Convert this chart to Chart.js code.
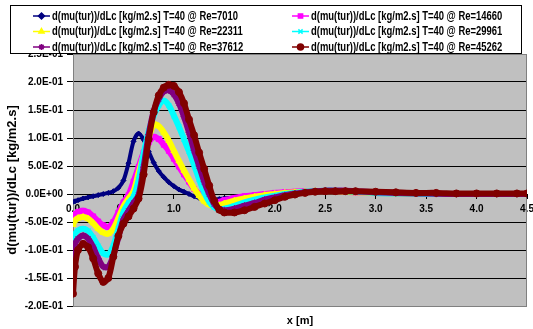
<!DOCTYPE html>
<html>
<head>
<meta charset="utf-8">
<script src="https://cdn.jsdelivr.net/npm/chart.js@4.4.1/dist/chart.umd.min.js"></script>
<style>
  body { margin: 0; background: #fff; }
  #wrap { width: 533px; height: 329px; }
</style>
</head>
<body>
<div id="wrap"><canvas id="c" width="533" height="329"></canvas></div>
<script>
// x positions [m] where values were read
const xs = [0, 0.02, 0.05, 0.1, 0.15, 0.2, 0.25, 0.3, 0.35, 0.4, 0.45, 0.5, 0.55, 0.6, 0.65, 0.7, 0.75, 0.8, 0.85, 0.9,
            0.95, 1.0, 1.05, 1.1, 1.15, 1.2, 1.25, 1.3, 1.35, 1.4, 1.45, 1.5, 1.6, 1.7, 1.8, 1.9, 2.0, 2.1, 2.2, 2.3,
            2.4, 2.5, 2.6, 2.7, 2.8, 3.0, 3.2, 3.4, 3.6, 3.8, 4.0, 4.2, 4.4, 4.5];

const re7010 = [-0.014, -0.013, -0.011, -0.008, -0.006, -0.004, -0.002, 0.0, 0.002, 0.005, 0.011, 0.024, 0.055, 0.094, 0.108, 0.097, 0.076, 0.056, 0.041, 0.030,
                0.021, 0.014, 0.008, 0.004, 0.0, -0.004, -0.007, -0.009, -0.010, -0.010, -0.009, -0.008, -0.006, -0.004, -0.002, 0.0, 0.001, 0.002, 0.003, 0.004,
                0.004, 0.004, 0.004, 0.003, 0.003, 0.002, 0.001, 0.0005, 0, 0, 0, 0, 0, 0];
const re14660 = [-0.042, -0.036, -0.032, -0.030, -0.033, -0.040, -0.049, -0.056, -0.059, -0.050, -0.033, -0.015, -0.002, 0.022, 0.048, 0.074, 0.092, 0.102, 0.098, 0.088,
                 0.077, 0.063, 0.049, 0.035, 0.022, 0.009, 0.0, -0.009, -0.015, -0.016, -0.014, -0.011, -0.007, -0.004, -0.002, 0.0, 0.002, 0.003, 0.004, 0.005,
                 0.005, 0.005, 0.005, 0.004, 0.003, 0.002, 0.001, 0.0005, 0, 0, 0, 0, 0, 0];
const re22311 = [-0.055, -0.047, -0.043, -0.041, -0.044, -0.052, -0.062, -0.069, -0.071, -0.062, -0.043, -0.022, -0.008, 0.005, 0.038, 0.070, 0.100, 0.124, 0.121, 0.110,
                 0.095, 0.077, 0.059, 0.042, 0.026, 0.010, -0.003, -0.013, -0.019, -0.021, -0.020, -0.017, -0.012, -0.008, -0.005, -0.002, 0.0, 0.002, 0.003, 0.004,
                 0.005, 0.005, 0.005, 0.004, 0.003, 0.002, 0.001, 0.0005, 0, 0, 0, 0, 0, 0];
const re29961 = [-0.085, -0.072, -0.065, -0.062, -0.066, -0.078, -0.093, -0.106, -0.108, -0.092, -0.062, -0.032, -0.016, -0.005, 0.025, 0.072, 0.112, 0.140, 0.158, 0.167,
                 0.158, 0.140, 0.120, 0.098, 0.076, 0.052, 0.026, 0.003, -0.014, -0.024, -0.027, -0.026, -0.021, -0.015, -0.010, -0.006, -0.003, 0.0, 0.002, 0.004,
                 0.005, 0.006, 0.006, 0.005, 0.004, 0.002, 0.001, 0.0005, 0, 0, 0, 0, 0, 0];
const re37612 = [-0.125, -0.090, -0.080, -0.074, -0.080, -0.095, -0.115, -0.130, -0.130, -0.110, -0.077, -0.045, -0.030, -0.016, -0.002, 0.048, 0.106, 0.148, 0.170, 0.183,
                 0.185, 0.178, 0.162, 0.138, 0.110, 0.078, 0.050, 0.022, 0.0, -0.018, -0.027, -0.029, -0.026, -0.021, -0.016, -0.010, -0.006, -0.002, 0.001, 0.003,
                 0.005, 0.006, 0.006, 0.006, 0.005, 0.003, 0.002, 0.001, 0.0005, 0, 0, 0, 0, 0];
const re45262 = [-0.178, -0.130, -0.100, -0.089, -0.095, -0.115, -0.142, -0.157, -0.150, -0.112, -0.075, -0.053, -0.040, -0.026, -0.008, 0.035, 0.098, 0.146, 0.176, 0.190,
                 0.195, 0.193, 0.182, 0.162, 0.133, 0.105, 0.074, 0.045, 0.015, -0.012, -0.028, -0.033, -0.033, -0.029, -0.023, -0.017, -0.011, -0.005, -0.001, 0.002,
                 0.004, 0.005, 0.005, 0.005, 0.005, 0.004, 0.003, 0.002, 0.002, 0.001, 0.001, 0.001, 0.001, 0.001];

const seriesLabels = [
  'd(mu(tur))/dLc [kg/m2.s] T=40 @ Re=7010',
  'd(mu(tur))/dLc [kg/m2.s] T=40 @ Re=14660',
  'd(mu(tur))/dLc [kg/m2.s] T=40 @ Re=22311',
  'd(mu(tur))/dLc [kg/m2.s] T=40 @ Re=29961',
  'd(mu(tur))/dLc [kg/m2.s] T=40 @ Re=37612',
  'd(mu(tur))/dLc [kg/m2.s] T=40 @ Re=45262'
];
const seriesValues = [re7010, re14660, re22311, re29961, re37612, re45262];
const colors = ['#000080', '#FF00FF', '#FFFF00', '#00FFFF', '#800080', '#800000'];
const markers = ['rectRot', 'rect', 'triangle', 'crossRot', 'star', 'circle'];

const xTitle = 'x [m]';
const yTitle = 'd(mu(tur))/dLc [kg/m2.s]';
const FONT = '"Liberation Sans", Arial, sans-serif';

function sci(v) {
  if (Math.abs(v) < 1e-9) return '0.0E+00';
  const e = Math.floor(Math.log10(Math.abs(v)) + 1e-9);
  const m = v / Math.pow(10, e);
  return m.toFixed(1) + 'E' + (e < 0 ? '-' : '+') + String(Math.abs(e)).padStart(2, '0');
}

const datasets = seriesValues.map((vals, i) => ({
  label: seriesLabels[i],
  data: xs.map((x, j) => ({ x: x, y: vals[j] })),
  borderColor: colors[i],
  backgroundColor: colors[i],
  borderWidth: i === 0 ? 4 : 6,
  pointStyle: markers[i],
  pointRadius: i === 0 ? 2.5 : 3.5,
  pointBorderWidth: 1,
  showLine: true,
  tension: 0.3,
  order: 6 - i
}));

const plotBg = {
  id: 'plotBg',
  beforeDraw(chart) {
    const a = chart.chartArea, ctx = chart.ctx;
    ctx.save();
    ctx.fillStyle = '#C0C0C0';
    ctx.fillRect(a.left, a.top, a.right - a.left, a.bottom - a.top);
    ctx.restore();
  },
  beforeDatasetsDraw(chart) {
    const a = chart.chartArea, ctx = chart.ctx;
    ctx.save();
    ctx.strokeStyle = '#808080';
    ctx.lineWidth = 1;
    ctx.strokeRect(a.left + 0.5, a.top + 0.5, a.right - a.left - 1, a.bottom - a.top);
    ctx.restore();
  }
};

const titlesAndLegend = {
  id: 'titlesAndLegend',
  afterDraw(chart) {
    const ctx = chart.ctx, a = chart.chartArea;
    ctx.save();
    ctx.fillStyle = '#000';
    ctx.textAlign = 'center';
    ctx.textBaseline = 'middle';
    ctx.font = 'bold 11px ' + FONT;
    ctx.fillText(xTitle, (a.left + a.right) / 2, 321);
    ctx.font = 'bold 13px ' + FONT;
    ctx.translate(12, (a.top + a.bottom) / 2);
    ctx.rotate(-Math.PI / 2);
    ctx.fillText(yTitle, 0, 0);
    ctx.restore();

    // legend box
    ctx.save();
    ctx.fillStyle = '#fff';
    ctx.fillRect(10, 5, 512, 49);
    ctx.strokeStyle = '#000';
    ctx.lineWidth = 1;
    ctx.strokeRect(10.5, 5.5, 511, 48);
    ctx.font = 'bold 12px ' + FONT;
    ctx.textBaseline = 'middle';
    ctx.textAlign = 'left';
    const sx = 186 / ctx.measureText(seriesLabels[0]).width;
    const colX = [33, 292];
    const rowY = [16, 31.5, 47];
    seriesLabels.forEach((lab, i) => {
      const x0 = colX[i % 2], y0 = rowY[Math.floor(i / 2)];
      ctx.strokeStyle = colors[i];
      ctx.fillStyle = colors[i];
      ctx.lineWidth = 1.5;
      ctx.beginPath();
      ctx.moveTo(x0, y0);
      ctx.lineTo(x0 + 17, y0);
      ctx.stroke();
      Chart.helpers.drawPoint(ctx, { pointStyle: markers[i], radius: 3, borderWidth: 1, rotation: 0 }, x0 + 8.5, y0);
      ctx.save();
      ctx.fillStyle = '#000';
      ctx.translate(x0 + 19, y0 + 0.5);
      ctx.scale(sx, 1);
      ctx.fillText(lab, 0, 0);
      ctx.restore();
    });
    ctx.restore();
  }
};

new Chart(document.getElementById('c'), {
  type: 'scatter',
  data: { datasets: datasets },
  options: {
    responsive: false,
    animation: false,
    layout: { padding: { left: 0, right: 6, top: 54, bottom: 23 } },
    plugins: { legend: { display: false }, tooltip: { enabled: false } },
    scales: {
      x: {
        type: 'linear',
        min: 0,
        max: 4.5,
        position: { y: 0 },
        ticks: {
          stepSize: 0.5,
          color: '#000',
          font: { family: FONT, size: 10, weight: 'bold' },
          padding: 5,
          maxRotation: 0,
          callback: v => Number(v).toFixed(1)
        },
        grid: { drawOnChartArea: false, tickLength: 4, tickColor: '#000' },
        border: { color: '#000', width: 1 },
        // the "4.5" label may hang over the edge, as in the picture
        afterFit: s => { s.paddingLeft = 0; s.paddingRight = 0; }
      },
      y: {
        min: -0.2,
        max: 0.25,
        ticks: {
          stepSize: 0.05,
          color: '#000',
          font: { family: FONT, size: 10, weight: 'bold' },
          padding: 4,
          callback: v => sci(v)
        },
        grid: {
          color: c => (Math.abs(c.tick.value + 0.2) < 1e-6 ? '#808080' : '#000'),
          tickLength: 6,
          tickColor: '#000'
        },
        border: { color: '#000', width: 1 },
        afterFit: s => { s.width = 73; }
      }
    }
  },
  plugins: [plotBg, titlesAndLegend]
});
</script>
</body>
</html>
